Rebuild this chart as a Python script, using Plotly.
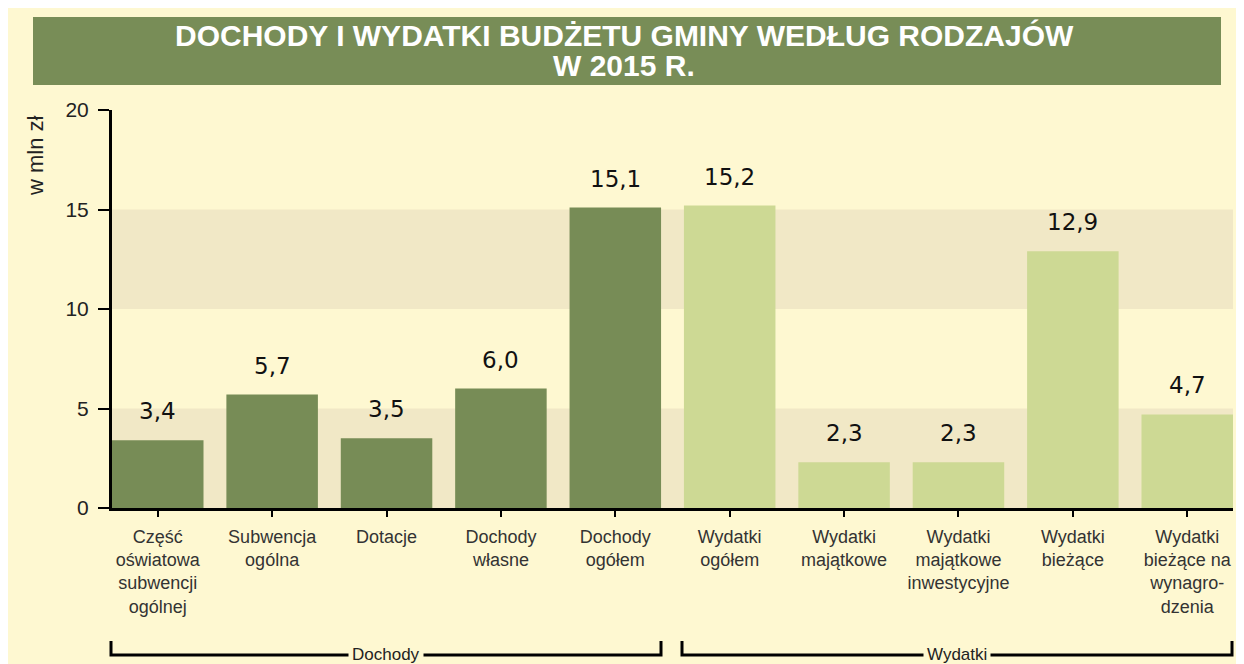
import plotly.graph_objects as go

categories = [
    "Część<br>oświatowa<br>subwencji<br>ogólnej",
    "Subwencja<br>ogólna",
    "Dotacje",
    "Dochody<br>własne",
    "Dochody<br>ogółem",
    "Wydatki<br>ogółem",
    "Wydatki<br>majątkowe",
    "Wydatki<br>majątkowe<br>inwestycyjne",
    "Wydatki<br>bieżące",
    "Wydatki<br>bieżące na<br>wynagro-<br>dzenia",
]
values = [3.4, 5.7, 3.5, 6.0, 15.1, 15.2, 2.3, 2.3, 12.9, 4.7]
groups = ["Dochody"] * 5 + ["Wydatki"] * 5
y_ticks = [0, 5, 10, 15, 20]

DARK = "#778C56"
LIGHT = "#CDD994"
CREAM = "#FEF8D1"
BAND = "#F1E8C6"

# page offset of the figure inside the browser (body margin)
OFF = 8
W, H = 1236, 656
# plot area in screen pixels
SX0, SX1, SY0, SY1 = 112, 1233, 110, 508
L, R, T, B = SX0 - OFF, W - (SX1 - OFF), SY0 - OFF, H - (SY1 - OFF)
pw, ph = W - L - R, H - T - B


def px_x(p):
    return (p - OFF - L) / pw


def px_y(p):
    return (H - B - (p - OFF)) / ph


xs = list(range(len(categories)))
colors = [DARK if g == "Dochody" else LIGHT for g in groups]

fig = go.Figure()
fig.add_trace(go.Bar(
    x=xs, y=values, width=0.8,
    marker=dict(color=colors, line=dict(width=0)),
    hoverinfo="skip", showlegend=False,
))

shapes = []
# title bar
shapes.append(dict(type="rect", xref="paper", yref="paper", layer="below",
                   x0=px_x(33), x1=px_x(1221), y0=px_y(85), y1=px_y(17),
                   fillcolor="#788D57", line=dict(width=0)))
# bands
for y0, y1 in [(0, 5), (10, 15)]:
    shapes.append(dict(type="rect", xref="paper", yref="y", layer="below",
                       x0=0, x1=1, y0=y0, y1=y1,
                       fillcolor=BAND, line=dict(width=0)))
# brackets
for a, b in [(111, 661), (682, 1232)]:
    xa, xb = px_x(a), px_x(b)
    ya, yb = px_y(641), px_y(655)
    shapes.append(dict(type="path", xref="paper", yref="paper",
                       path=f"M {xa},{ya} L {xa},{yb} L {xb},{yb} L {xb},{ya}",
                       line=dict(color="black", width=3)))

annotations = []
for x, v in zip(xs, values):
    annotations.append(dict(x=x, y=v, xref="x", yref="y", text=f"{v:.1f}".replace(".", ","),
                            showarrow=False, yanchor="middle", yshift=29,
                            font=dict(family="DejaVu Sans", size=23, color="#111")))
# group labels
for name, a, b in [("Dochody", 111, 661), ("Wydatki", 682, 1232)]:
    annotations.append(dict(x=px_x((a + b) / 2), y=px_y(654), xref="paper", yref="paper",
                            text=name, showarrow=False, xanchor="center", yanchor="middle",
                            bgcolor=CREAM, borderpad=3,
                            font=dict(family="Liberation Sans, Arial", size=17, color="#222")))
# title
for txt, yy in [("DOCHODY I WYDATKI BUDŻETU GMINY WEDŁUG RODZAJÓW", 36), ("W 2015 R.", 66)]:
    annotations.append(dict(x=px_x(624), y=px_y(yy), xref="paper", yref="paper",
                            text=f"<b>{txt}</b>", showarrow=False,
                            xanchor="center", yanchor="middle",
                            font=dict(family="Liberation Sans, Arial", size=30, color="white")))
# y title
annotations.append(dict(x=px_x(36), y=px_y(156), xref="paper", yref="paper",
                        text="w mln zł", textangle=-90, showarrow=False,
                        xanchor="center", yanchor="middle",
                        font=dict(family="Liberation Sans, Arial", size=22, color="#222")))

fig.update_layout(
    width=W, height=H,
    margin=dict(l=L, r=R, t=T, b=B),
    paper_bgcolor=CREAM,
    plot_bgcolor=CREAM,
    shapes=shapes,
    annotations=annotations,
    bargap=0.2,
    xaxis=dict(
        range=[-0.4, 9.4], tickmode="array", tickvals=xs, ticktext=categories,
        showline=True, linecolor="black", linewidth=3,
        ticks="outside", ticklen=6, tickwidth=2, tickcolor="black",
        ticklabelstandoff=4,
        showgrid=False, zeroline=False,
        tickfont=dict(family="Liberation Sans, Arial", size=18, color="#333"),
    ),
    yaxis=dict(
        range=[0, 20], tickmode="array", tickvals=y_ticks,
        ticktext=[str(t) for t in y_ticks],
        showline=True, linecolor="black", linewidth=3,
        ticks="outside", ticklen=11, tickwidth=2, tickcolor="black",
        ticklabelstandoff=5,
        showgrid=False, zeroline=False,
        tickfont=dict(family="Liberation Sans, Arial", size=21, color="#222"),
    ),
)

fig.write_html("out.html")
